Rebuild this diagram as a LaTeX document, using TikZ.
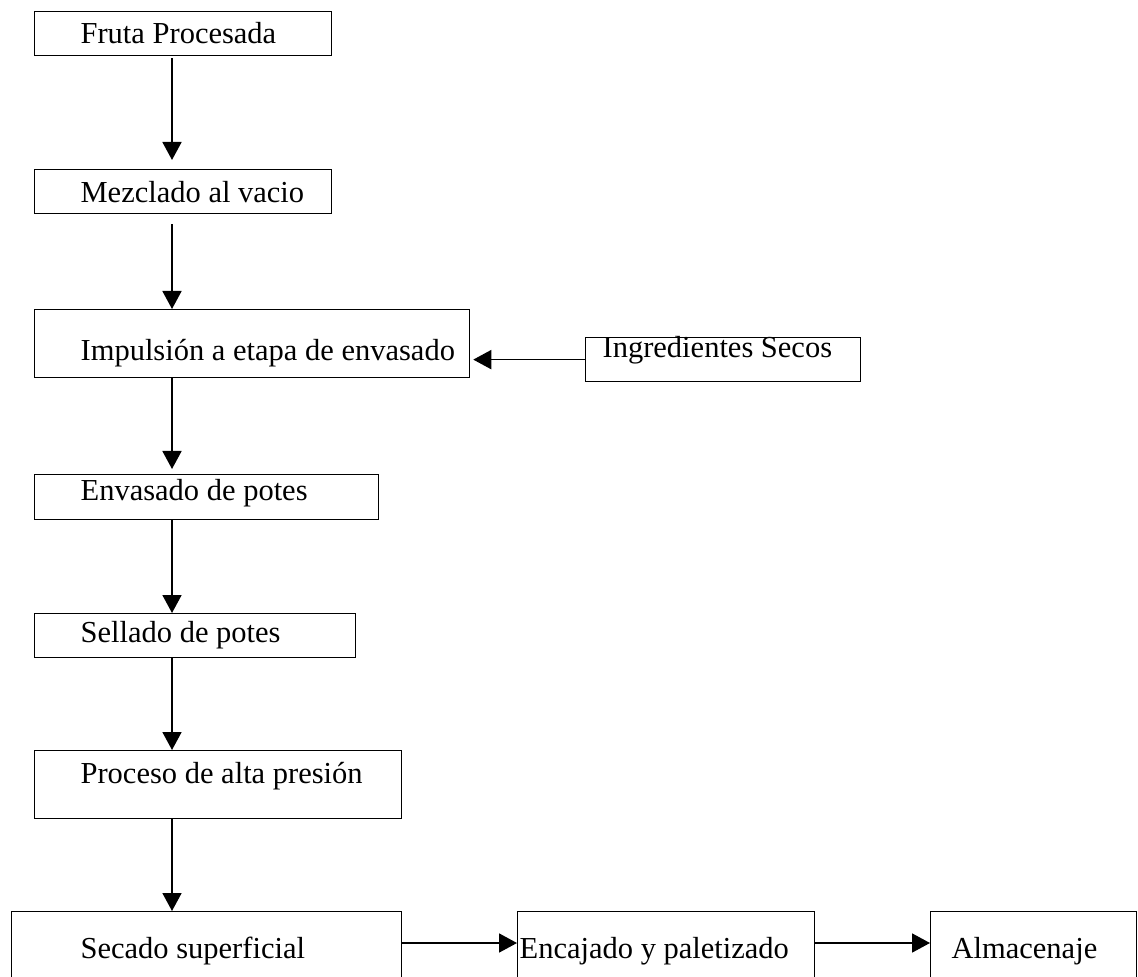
\documentclass[tikz,border=0pt]{standalone}
\usepackage{fontspec}
\setmainfont{Liberation Serif}
\usetikzlibrary{arrows.meta}

\begin{document}
\begin{tikzpicture}[x=0.4pt,y=-0.4pt,
stage/.style={draw,line width=0.5pt,rectangle,anchor=north west,inner sep=0pt,
 align=flush left,text height=6pt,text depth=0.6pt,
 font=\fontsize{12.2pt}{14pt}\selectfont},
flow/.style={line width=0.7pt,-{Triangle[width=7.6pt,length=7.2pt]}}]
 \clip (0,0) rectangle (1138,977);

 % main column
 \node[stage,text width=118.8pt,minimum height=17.6pt,text height=8pt,text depth=0pt]
 (fruta) at (34,11) {\hspace*{18.4pt}Fruta Procesada};
 \node[stage,text width=118.8pt,minimum height=17.6pt,text height=8.8pt,text depth=0pt]
 (mezcla) at (34,169) {\hspace*{18.4pt}Mezclado al vacio};
 \node[stage,text width=174pt,minimum height=27.2pt,text height=13.6pt,text depth=0pt]
 (impulsion) at (34,309) {\hspace*{18.4pt}Impulsión a etapa de envasado};
 \node[stage,text width=137.6pt,minimum height=18pt,text depth=3.2pt]
 (envasado) at (34,474) {\hspace*{18.4pt}Envasado de potes};
 \node[stage,text width=128.4pt,minimum height=17.6pt]
 (sellado) at (34,613) {\hspace*{18.4pt}Sellado de potes};
 \node[stage,text width=146.8pt,minimum height=27.2pt,text depth=6.8pt]
 (proceso) at (34,750) {\hspace*{18.4pt}Proceso de alta presión};

 % side input
 \node[stage,text width=110pt,minimum height=17.6pt,text depth=7.4pt]
 (ingred) at (585,337) {\hspace*{6.8pt}Ingredientes Secos};

 % bottom row
 \node[stage,text width=156pt,minimum height=36pt,text depth=4.4pt]
 (secado) at (11,911) {\hspace*{27.6pt}Secado superficial};
 \node[stage,text width=118.8pt,minimum height=36pt,text depth=4.4pt]
 (encajado) at (517,911) {\hspace*{0.8pt}Encajado y paletizado};
 \node[stage,text width=82.4pt,minimum height=36pt,text depth=4.4pt]
 (almacen) at (930,911) {\hspace*{8.4pt}Almacenaje};

 \coordinate (spine) at (172,0);
 \coordinate (belt) at (0,943);

 \foreach \A/\B/\S/\E in {fruta/mezcla/0.8pt/3.6pt,mezcla/impulsion/4pt/0pt,
 impulsion/envasado/0pt/2pt,envasado/sellado/0pt/0pt,
 sellado/proceso/0pt/0pt,proceso/secado/0pt/0pt}
 \draw[flow,shorten <=\S,shorten >=\E] (\A.south -| spine) -- (\B.north -| spine);

 \draw[flow,shorten >=1.2pt] (ingred.west) -- (impulsion.east |- ingred.west);

 \foreach \A/\B in {secado/encajado,encajado/almacen}
 \draw[flow] (\A.east |- belt) -- (\B.west |- belt);

\end{tikzpicture}
\end{document}
